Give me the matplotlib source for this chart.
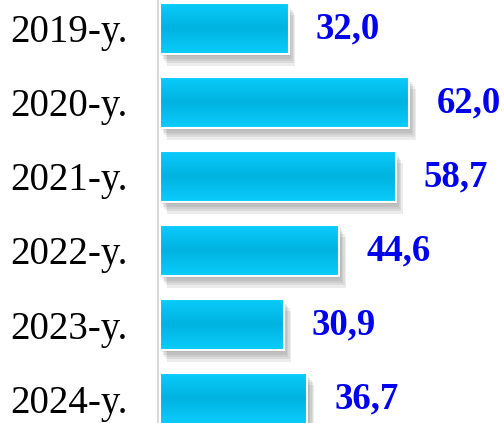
import matplotlib
matplotlib.use('Agg')
import matplotlib.pyplot as plt
import matplotlib.patheffects as pe
from matplotlib.colors import LinearSegmentedColormap
from matplotlib.patches import Rectangle
import numpy as np

# Data
years = ['2019-y.', '2020-y.', '2021-y.', '2022-y.', '2023-y.', '2024-y.']
values = [32.0, 62.0, 58.7, 44.6, 30.9, 36.7]
value_labels = ['32,0', '62,0', '58,7', '44,6', '30,9', '36,7']

fig = plt.figure(figsize=(5.04, 4.23), dpi=100)
ax = fig.add_axes([158 / 504, 0, 346 / 504, 1])

bar_h = 0.69
cmap = LinearSegmentedColormap.from_list('cy', ['#0ACDFC', '#00B3E0', '#0ACDFC'])
grad = np.linspace(0, 1, 64).reshape(-1, 1)

# soft drop shadow, built from a few offset layers
shadow = [pe.SimplePatchShadow(offset=(o, -o * 1.7), shadow_rgbFace='#707070', alpha=0.13)
          for o in (1.0, 2.0, 3.0, 4.0, 5.0)] + [pe.Normal()]

for i, (v, lab) in enumerate(zip(values, value_labels)):
    y0 = i - bar_h / 2
    base = Rectangle((0, y0), v, bar_h, facecolor='#05C4F5', edgecolor='none',
                     path_effects=shadow, zorder=2)
    ax.add_patch(base)
    im = ax.imshow(grad, cmap=cmap, aspect='auto', extent=[0, v, y0 + bar_h, y0],
                   zorder=3, interpolation='bilinear')
    im.set_clip_path(base)
    ax.add_patch(Rectangle((0, y0), v, bar_h, facecolor='none', edgecolor='white',
                           linewidth=1.5, zorder=4))
    ax.text(v + 6.8, i, lab, ha='left', va='center', color='#0000F0',
            fontsize=26.5, fontweight='bold', family='Liberation Serif')

ax.set_xlim(-0.5, 85.65)
ax.set_ylim(5.331, -0.385)
ax.set_yticks(range(len(years)))
ax.set_yticklabels(years, family='Liberation Serif', fontsize=28)
ax.tick_params(axis='y', length=0, pad=21.6)
ax.set_xticks([])
for s in ['top', 'right', 'bottom']:
    ax.spines[s].set_visible(False)
ax.spines['left'].set_color('#D9D9D9')
ax.spines['left'].set_linewidth(1.5)

fig.savefig('out.png', dpi=100)
